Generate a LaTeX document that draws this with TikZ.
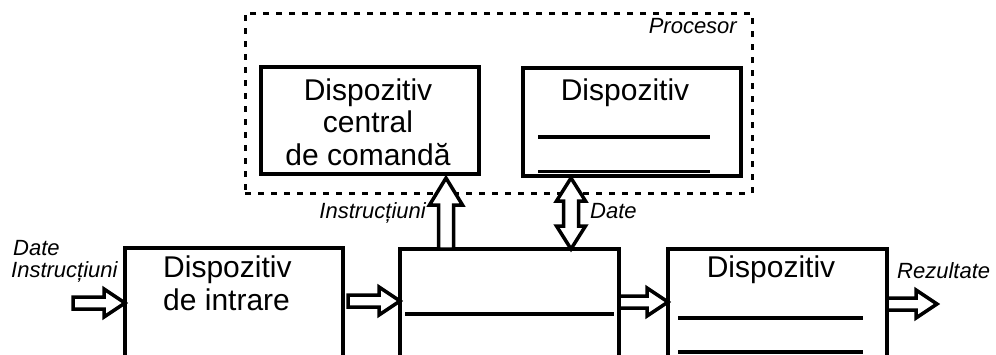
\documentclass[tikz,border=0pt]{standalone}
\usepackage{fontspec}
\setmainfont{Liberation Sans}
\usetikzlibrary{calc}
\newcommand\harrowdraw[2]{\draw[barrow] let \p1=(#1), \p2=(#2) in
  (\x1,\y1+6pt) -- (\x2-21pt,\y1+6pt) -- (\x2-21pt,\y1+14pt) -- (\x2,\y1) --
  (\x2-21pt,\y1-14pt) -- (\x2-21pt,\y1-6pt) -- (\x1,\y1-6pt) -- cycle;}
\newcommand\uparrowdraw[2]{\draw[barrow] let \p1=(#1), \p2=(#2) in
  (\x1-7.5pt,\y1) -- (\x1-7.5pt,\y2-27pt) -- (\x1-16.5pt,\y2-27pt) -- (\x1,\y2) --
  (\x1+16.5pt,\y2-27pt) -- (\x1+7.5pt,\y2-27pt) -- (\x1+7.5pt,\y1) -- cycle;}
\newcommand\dblarrowdraw[2]{\draw[barrow] let \p1=(#1), \p2=(#2) in
  (\x1,\y1) -- (\x1+14.5pt,\y1+23pt) -- (\x1+7.5pt,\y1+23pt) -- (\x1+7.5pt,\y2-23pt) --
  (\x1+14.5pt,\y2-23pt) -- (\x1,\y2) -- (\x1-14.5pt,\y2-23pt) -- (\x1-7.5pt,\y2-23pt) --
  (\x1-7.5pt,\y1+23pt) -- (\x1-14.5pt,\y1+23pt) -- cycle;}
\begin{document}
\begin{tikzpicture}[x=1pt,y=-1pt,
  box/.style={draw, line width=3.5pt, rectangle, inner sep=0pt, outer sep=0pt, fill=white},
  proc/.style={draw, line width=3pt, dash pattern=on 6pt off 7pt, rectangle, inner sep=0pt, outer sep=0pt},
  txt/.style={font=\fontsize{30}{33}\selectfont, inner sep=0pt},
  lbl/.style={font=\fontsize{22}{24}\selectfont\itshape, inner sep=0pt},
  rulestyle/.style={line width=3.5pt},
  barrow/.style={draw, line width=3.5pt, fill=white, line join=miter}]
\useasboundingbox (0,0) rectangle (996,354);
\clip (0,0) rectangle (996,354);
\fill[white] (0,0) rectangle (996,354);
% processor frame
\node[proc, minimum width=507, minimum height=180] (procbox) at (498.5,103) {};
\node[lbl, anchor=base east] (proclbl) at (737,33) {Procesor};
% top boxes
\node[box, minimum width=218, minimum height=107] (ctrl) at (370,120.5) {};
\node[txt, anchor=base] (c1) at (368,100) {Dispozitiv};
\node[txt, anchor=base] (c2) at (368,132.5) {central};
\node[txt, anchor=base] (c3) at (368,165) {de comandă};
\node[box, minimum width=218, minimum height=108] (mem) at (632,122) {};
\node[txt, anchor=base] (m1) at (625,100) {Dispozitiv};
\draw[rulestyle] (538,137) -- (710,137);
\draw[rulestyle] (538,171.5) -- (710,171.5);
% bottom boxes
\node[box, minimum width=218, minimum height=132] (inp) at (234,314) {};
\node[txt, anchor=base west] (i1) at (163,277) {Dispozitiv};
\node[txt, anchor=base west] (i2) at (163,310) {de intrare};
\node[box, minimum width=219, minimum height=130] (mid) at (509.5,314) {};
\draw[rulestyle] (405,314) -- (614,314);
\node[box, minimum width=219, minimum height=130] (outp) at (777.5,314) {};
\node[txt, anchor=base] (o1) at (771,277) {Dispozitiv};
\draw[rulestyle] (678,318) -- (863,318);
\draw[rulestyle] (678,352) -- (863,352);
% horizontal arrows
\coordinate (a1s) at (73,303);
\harrowdraw{a1s}{inp.west |- a1s}
\coordinate (a2s) at (348,301);
\harrowdraw{a2s}{mid.west |- a2s}
\coordinate (a3y) at (0,302);
\harrowdraw{mid.east |- a3y}{outp.west |- a3y}
\coordinate (a4e) at (937,304);
\harrowdraw{outp.east |- a4e}{a4e}
% vertical arrows
\coordinate (ux) at (446,0);
\coordinate (utip) at (446,178);
\uparrowdraw{mid.north -| ux}{utip}
\coordinate (dx) at (571,0);
\coordinate (dtop) at (571,178);
\dblarrowdraw{mid.north -| dx}{dtop}
% labels
\node[lbl, anchor=base east] (linstr) at (426,218) {Instrucțiuni};
\node[lbl, anchor=base west] (ldate) at (590,218) {Date};
\node[lbl, anchor=base west] (lin1) at (13,255) {Date};
\node[lbl, anchor=base west] (lin2) at (11,277) {Instrucțiuni};
\node[lbl, anchor=base west] (lres) at (897,278) {Rezultate};
\end{tikzpicture}
\end{document}
